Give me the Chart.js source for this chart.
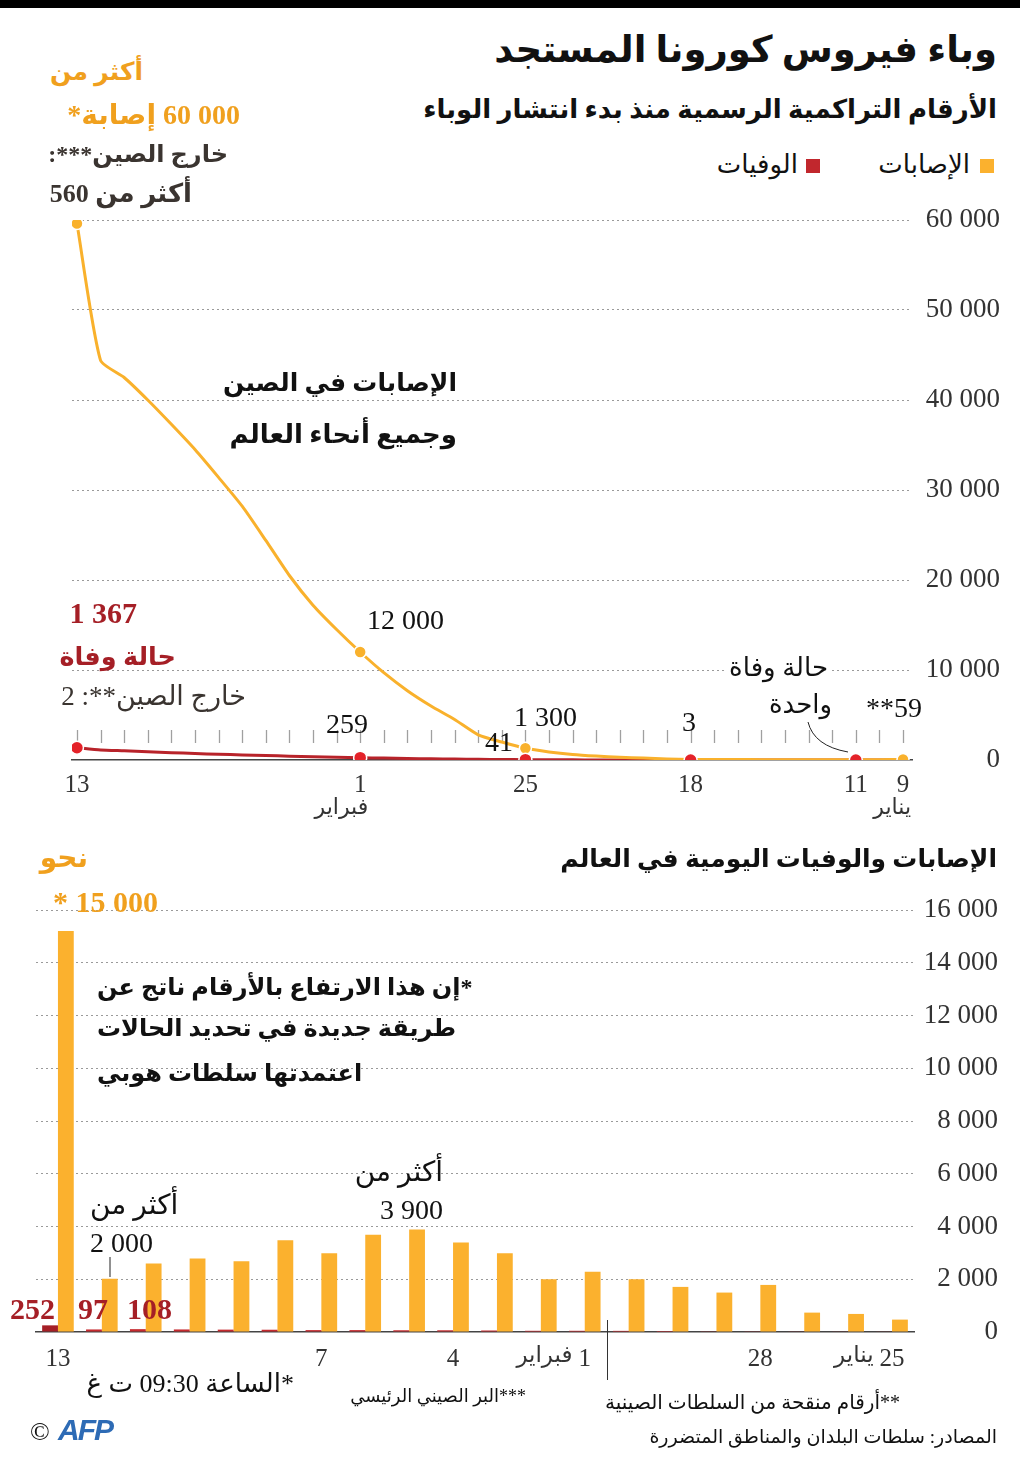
<!DOCTYPE html>
<html lang="ar" dir="rtl">
<head>
<meta charset="UTF-8" />
<title>وباء فيروس كورونا المستجد</title>
<script src="https://cdn.jsdelivr.net/npm/chart.js"></script>
<style>
  body { margin: 0; background: #fff; }
  .page {
    position: relative;
    width: 1020px;
    height: 1472px;
    overflow: hidden;
    font-family: "Liberation Serif", "DejaVu Sans", serif;
    color: #111;
  }
  .topbar { position: absolute; left: 0; top: 0; width: 1020px; height: 8px; background: #000; }
  .t { position: absolute; white-space: nowrap; direction: rtl; line-height: 1; }
  .b { font-weight: bold; }
  .orange { color: #f0a01e; }
  .dred { color: #a51f26; }
  .grey { color: #3a3430; }
  .sq { position: absolute; width: 14px; height: 14px; }
  canvas { position: absolute; left: 0; direction: ltr; }
</style>
</head>
<body>
<div class="page">
  <div class="topbar"></div>

  <!-- header -->
  <div class="t b" style="right:23px; top:31px; font-size:37px;">وباء فيروس كورونا المستجد</div>
  <div class="t b" style="right:23px; top:97px; font-size:26px;">الأرقام التراكمية الرسمية منذ بدء انتشار الوباء</div>
  <div class="sq" style="left:980px; top:159px; background:#fbb12e;"></div>
  <div class="t" style="right:50px; top:152px; font-size:26px;">الإصابات</div>
  <div class="sq" style="left:806px; top:159px; background:#c1272d;"></div>
  <div class="t" style="right:222px; top:152px; font-size:26px;">الوفيات</div>

  <!-- top chart -->
  <canvas id="cumChart" dir="ltr" width="1020" height="630" style="top:200px;"></canvas>

  <div class="t b orange" style="right:877px; top:59px; font-size:25px;">أكثر من</div>
  <div class="t b orange" style="right:780px; top:101px; font-size:28px;">60&nbsp;000 إصابة*</div>
  <div class="t b grey" style="right:792px; top:142px; font-size:24px;">خارج الصين***:</div>
  <div class="t b grey" style="right:828px; top:181px; font-size:26px;">أكثر من 560</div>

  <div class="t b" style="right:563px; top:370px; font-size:25px;">الإصابات في الصين</div>
  <div class="t b" style="right:563px; top:422px; font-size:26px;">وجميع أنحاء العالم</div>

  <div class="t" style="right:576px; top:606px; font-size:28px;">12&nbsp;000</div>
  <div class="t b dred" style="right:883px; top:598px; font-size:30px;">1&nbsp;367</div>
  <div class="t b dred" style="right:844px; top:644px; font-size:25.5px; background:#fff; padding-left:4px;">حالة وفاة</div>
  <div class="t grey" style="right:774px; top:683px; font-size:27px;">خارج الصين**: 2</div>
  <div class="t" style="right:652px; top:710px; font-size:28px;">259</div>
  <div class="t" style="right:507px; top:728px; font-size:28px;">41</div>
  <div class="t" style="right:443px; top:703px; font-size:28px;">1&nbsp;300</div>
  <div class="t" style="right:324px; top:708px; font-size:28px;">3</div>
  <div class="t" style="right:188px; top:655px; font-size:26px; background:#fff; padding:0 4px;">حالة وفاة</div>
  <div class="t" style="right:188px; top:692px; font-size:26px;">واحدة</div>
  <div class="t" style="right:98px; top:694px; font-size:28px;">59**</div>
  <svg style="position:absolute; left:0; top:0;" width="1020" height="1472">
    <path d="M808 722 Q814 746 848 752" fill="none" stroke="#222" stroke-width="1" />
    <line x1="110" y1="1257" x2="110" y2="1277" stroke="#222" stroke-width="1" />
  </svg>

  <!-- bottom chart -->
  <div class="t b" style="right:23px; top:846px; font-size:25px;">الإصابات والوفيات اليومية في العالم</div>
  <canvas id="dailyChart" dir="ltr" width="1020" height="500" style="top:880px;"></canvas>

  <div class="t b orange" style="right:932px; top:844px; font-size:28px;">نحو</div>
  <div class="t b orange" style="right:862px; top:887px; font-size:30px;">15&nbsp;000 *</div>
  <div class="t b" style="left:97px; top:975px; font-size:24px;">*إن هذا الارتفاع بالأرقام ناتج عن</div>
  <div class="t b" style="left:97px; top:1016px; font-size:24px;">طريقة جديدة في تحديد الحالات</div>
  <div class="t b" style="left:97px; top:1061px; font-size:24px;">اعتمدتها سلطات هوبي</div>
  <div class="t" style="left:90px; top:1191px; font-size:28px;">أكثر من</div>
  <div class="t" style="left:90px; top:1229px; font-size:28px;">2&nbsp;000</div>
  <div class="t" style="right:577px; top:1158px; font-size:28px;">أكثر من</div>
  <div class="t" style="right:577px; top:1196px; font-size:28px;">3&nbsp;900</div>
  <div class="t b dred" style="left:10px; top:1294px; font-size:30px;">252</div>
  <div class="t b dred" style="left:78px; top:1294px; font-size:30px;">97</div>
  <div class="t b dred" style="left:127px; top:1294px; font-size:30px;">108</div>

  <!-- footer -->
  <div class="t" style="right:726px; top:1371px; font-size:26px;">*الساعة 09:30 ت غ</div>
  <div class="t" style="right:494px; top:1387px; font-size:18px;">***البر الصيني الرئيسي</div>
  <div class="t" style="right:120px; top:1392px; font-size:20px;">**أرقام منقحة من السلطات الصينية</div>
  <div class="t" style="right:23px; top:1427px; font-size:19px;">المصادر: سلطات البلدان والمناطق المتضررة</div>
  <div class="t" style="left:30px; top:1419px; font-size:26px; direction:ltr;">©</div>
  <div class="t" style="left:58px; top:1415px; font-size:30px; direction:ltr; font-family:'Liberation Sans',sans-serif; font-weight:bold; font-style:italic; color:#2d6bb5; letter-spacing:-2px;">AFP</div>
</div>

<script>
  // cumulative figures, 9 Jan -> 13 Feb
  const cumDays = ["9","10","11","12","13","14","15","16","17","18","19","20","21","22","23","24","25","26","27","28","29","30","31","1","2","3","4","5","6","7","8","9","10","11","12","13"];
  const cumCases = [59,41,41,41,41,41,41,45,62,62,121,220,300,440,620,900,1300,2000,2800,4500,6000,7700,9700,12000,14500,17200,20500,24400,28200,31400,34500,37300,40000,42500,44400,59600];
  const cumDeaths = [0,0,1,1,1,1,1,2,2,3,3,4,6,9,17,26,41,56,80,106,132,170,213,259,305,362,427,493,565,637,723,813,910,1018,1115,1367];
  const cumShownTicks = [0, 2, 9, 16, 23, 35];
  const cumMonthWords = { 0: "يناير", 23: "فبراير" };
  const caseMarks = [0, 16, 23, 35];
  const deathMarks = [2, 9, 16, 23, 35];

  // daily figures, 25 Jan -> 13 Feb
  const dailyDays = ["25","26","27","28","29","30","31","1","2","3","4","5","6","7","8","9","10","11","12","13"];
  const dailyCases = [470,685,735,1785,1495,1710,2000,2280,2000,2990,3390,3890,3685,2990,3480,2685,2785,2595,2015,15200];
  const dailyDeaths = [15,15,24,26,26,38,43,46,46,57,65,66,72,72,86,90,97,108,97,252];
  const dailyShownTicks = [0, 3, 10, 13, 7, 19];
  const dailyMonthWords = { 0: "يناير", 7: "فبراير" };

  const YELLOW = "#fbb12e";
  const RED = "#e42229";
  const DARKRED = "#b8232a";
  const numFont = "Liberation Serif";

  function spaced(v) {
    return String(v).replace(/\B(?=(\d{3})+(?!\d))/g, " ");
  }

  function dottedGrid() {
    return {
      color: (c) => (c.tick && c.tick.value === 0 ? "rgba(0,0,0,0)" : "#9a9a9a"),
      lineWidth: 1,
      drawTicks: false,
    };
  }

  // small day ticks above the axis of the top chart
  const dayTicks = {
    id: "dayTicks",
    beforeDatasetsDraw(chart) {
      const x = chart.scales.x;
      const bottom = chart.chartArea.bottom;
      const ctx = chart.ctx;
      ctx.save();
      ctx.strokeStyle = "#a0a0a0";
      ctx.lineWidth = 1.3;
      for (let i = 0; i < cumDays.length; i++) {
        const px = Math.round(x.getPixelForValue(i)) + 0.5;
        ctx.beginPath();
        ctx.moveTo(px, bottom - 30);
        ctx.lineTo(px, bottom - 17);
        ctx.stroke();
      }
      ctx.restore();
    },
    afterDraw(chart) {
      const x = chart.scales.x;
      const ctx = chart.ctx;
      ctx.save();
      ctx.font = "22px 'DejaVu Sans'";
      ctx.fillStyle = "#333";
      ctx.textAlign = "right";
      ctx.textBaseline = "middle";
      ctx.direction = "rtl";
      Object.keys(cumMonthWords).forEach((k) => {
        ctx.fillText(cumMonthWords[k], x.getPixelForValue(+k) + 8, chart.chartArea.bottom + 48);
      });
      ctx.restore();
    },
  };

  new Chart(document.getElementById("cumChart"), {
    type: "line",
    data: {
      datasets: [
        {
          label: "الوفيات",
          data: cumDeaths.map((v, i) => ({ x: i, y: v })),
          showLine: false,
          pointRadius: (c) => (deathMarks.includes(c.dataIndex) ? 6.5 : 0),
          pointBackgroundColor: RED,
          pointBorderColor: "#fff",
          pointBorderWidth: 1.5,
        },
        {
          label: "الإصابات",
          data: cumCases.map((v, i) => ({ x: i, y: v })),
          borderColor: "#f9b12c",
          borderWidth: 3,
          tension: 0.2,
          pointRadius: (c) => (caseMarks.includes(c.dataIndex) ? 6 : 0),
          pointBackgroundColor: "#f9b12c",
          pointBorderColor: "#fff",
          pointBorderWidth: 1.5,
        },
        {
          label: "الوفيات",
          data: cumDeaths.map((v, i) => ({ x: i, y: v })),
          borderColor: DARKRED,
          borderWidth: 3,
          tension: 0.2,
          pointRadius: 0,
        },
      ],
    },
    options: {
      responsive: false,
      animation: false,
      layout: { padding: { left: 72, right: 20, top: 20, bottom: 0 } },
      plugins: { legend: { display: false }, tooltip: { enabled: false } },
      scales: {
        x: {
          type: "linear",
          reverse: true,
          min: -0.38,
          max: 35.21,
          afterFit: (s) => { s.height = 70; },
          afterBuildTicks: (s) => { s.ticks = cumDays.map((d, i) => ({ value: i })); },
          grid: { display: true, drawOnChartArea: false, drawTicks: false },
          border: { display: true, color: "#444", width: 1.5 },
          ticks: {
            autoSkip: false,
            maxRotation: 0,
            padding: 10,
            color: "#333",
            font: { family: numFont, size: 25 },
            callback: (v) => (cumShownTicks.includes(v) ? cumDays[v] : ""),
          },
        },
        y: {
          position: "right",
          min: 0,
          max: 60000,
          afterFit: (s) => { s.width = 88; },
          grid: dottedGrid(),
          border: { display: false, dash: [2, 3] },
          ticks: {
            stepSize: 10000,
            padding: 0,
            crossAlign: "far",
            color: "#333",
            font: { family: numFont, size: 27 },
            callback: (v) => spaced(v),
          },
        },
      },
    },
    plugins: [dayTicks],
  });

  // separator and month words of the bottom chart
  const dailyExtras = {
    id: "dailyExtras",
    afterDraw(chart) {
      const x = chart.scales.x;
      const bottom = chart.chartArea.bottom;
      const ctx = chart.ctx;
      ctx.save();
      const sx = Math.round((x.getPixelForTick(6) + x.getPixelForTick(7)) / 2) + 0.5;
      ctx.strokeStyle = "#333";
      ctx.lineWidth = 1;
      ctx.beginPath();
      ctx.moveTo(sx, bottom - 12);
      ctx.lineTo(sx, bottom + 50);
      ctx.stroke();

      ctx.font = "23px 'DejaVu Sans'";
      ctx.fillStyle = "#333";
      ctx.textAlign = "right";
      ctx.textBaseline = "middle";
      ctx.direction = "rtl";
      Object.keys(dailyMonthWords).forEach((k) => {
        ctx.save();
        ctx.font = "25px " + numFont;
        const w = ctx.measureText(dailyDays[k]).width;
        ctx.restore();
        ctx.fillText(dailyMonthWords[k], x.getPixelForTick(+k) - w / 2 - 6, bottom + 24);
      });
      ctx.restore();
    },
  };

  new Chart(document.getElementById("dailyChart"), {
    type: "bar",
    data: {
      labels: dailyDays,
      datasets: [
        {
          label: "الوفيات",
          data: dailyDeaths,
          backgroundColor: (c) => (c.dataIndex === dailyDeaths.length - 1 ? "#a51f26" : "#c62a2f"),
          categoryPercentage: 0.72,
          barPercentage: 1,
        },
        {
          label: "الإصابات",
          data: dailyCases,
          backgroundColor: YELLOW,
          categoryPercentage: 0.72,
          barPercentage: 1,
        },
      ],
    },
    options: {
      responsive: false,
      animation: false,
      layout: { padding: { left: 36, right: 22, top: 30, bottom: 0 } },
      plugins: { legend: { display: false }, tooltip: { enabled: false } },
      scales: {
        x: {
          reverse: true,
          offset: true,
          afterFit: (s) => { s.height = 48; },
          grid: { display: true, drawOnChartArea: false, drawTicks: false },
          border: { display: true, color: "#444", width: 1.5 },
          ticks: {
            autoSkip: false,
            maxRotation: 0,
            padding: 12,
            color: "#333",
            font: { family: numFont, size: 25 },
            callback: (v, i) => (dailyShownTicks.includes(i) ? dailyDays[i] : ""),
          },
        },
        y: {
          position: "right",
          min: 0,
          max: 16000,
          afterFit: (s) => { s.width = 84; },
          grid: dottedGrid(),
          border: { display: false, dash: [2, 3] },
          ticks: {
            stepSize: 2000,
            padding: 0,
            crossAlign: "far",
            color: "#333",
            font: { family: numFont, size: 27 },
            callback: (v) => spaced(v),
          },
        },
      },
    },
    plugins: [dailyExtras],
  });
</script>
</body>
</html>
